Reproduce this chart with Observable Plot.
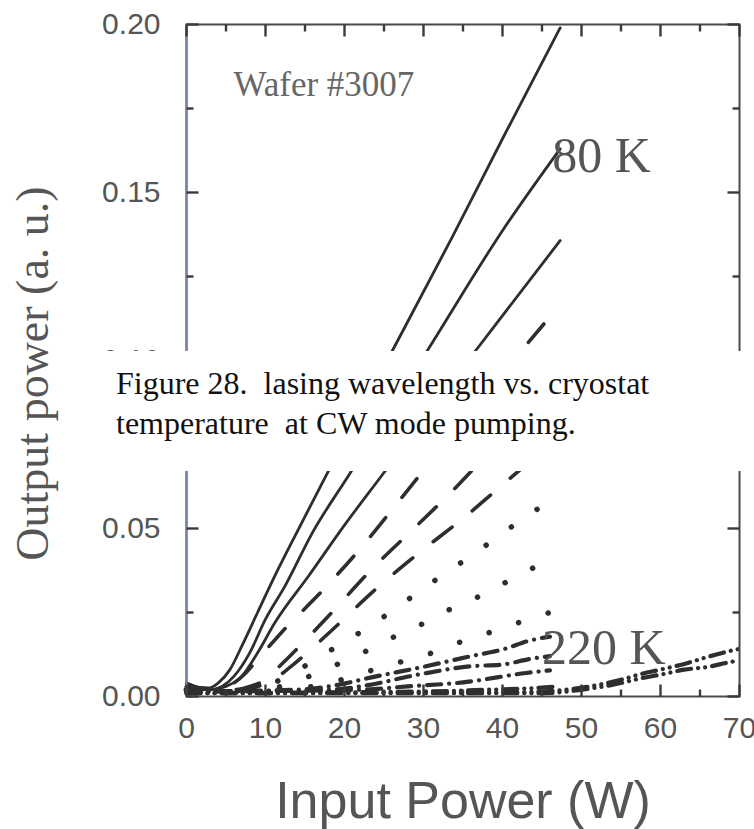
<!DOCTYPE html>
<html><head><meta charset="utf-8">
<script src="https://cdn.jsdelivr.net/npm/d3@7"></script>
<script src="https://cdn.jsdelivr.net/npm/@observablehq/plot@0.6"></script>
<style>
body{margin:0;background:#fff;}
#wrap{position:relative;width:754px;height:829px;overflow:hidden;background:#fff;}
#chart svg{display:block;background:#fff;}
#cap{position:absolute;left:96px;top:351px;width:658px;height:120px;background:#fff;font-family:"Liberation Serif","Times New Roman",serif;font-size:32px;line-height:40px;color:#111;white-space:pre;padding:12px 0 0 20px;box-sizing:border-box;}
</style></head><body>
<div id="wrap"><div id="chart"></div><div id="cap"></div></div>
<script>
// ---- data ----
const temperatures = ["80 K","90 K","100 K","110 K","120 K","130 K","140 K","150 K","160 K","170 K","180 K","190 K","200 K","210 K","220 K"];

const x80 = [0, 2, 3, 4, 5.5, 7, 9, 11, 14, 17.5, 25.4, 33.7, 40, 47.3];
const y80 = [0.004, 0.002, 0.0025, 0.004, 0.008, 0.015, 0.025, 0.035, 0.049, 0.065, 0.100, 0.137, 0.166, 0.199];
const x90 = [0, 3, 4.5, 6, 8, 10, 12.5, 16, 20.5, 30.5, 40.1, 47.3];
const y90 = [0.004, 0.002, 0.003, 0.006, 0.013, 0.023, 0.033, 0.049, 0.0657, 0.103, 0.139, 0.163];
const x100 = [0, 3, 5, 7, 9, 11.2, 15.5, 20, 24.7, 36.3, 47.3];
const y100 = [0.004, 0.002, 0.003, 0.006, 0.013, 0.022, 0.036, 0.051, 0.0657, 0.102, 0.1357];
const x110 = [0, 4, 6, 7.5, 9, 12, 17, 22, 26.5, 35, 46];
const y110 = [0.003, 0.002, 0.004, 0.007, 0.011, 0.019, 0.031, 0.044, 0.057, 0.082, 0.113];
const x120 = [0, 6, 8, 10, 12, 18, 23.5, 29, 34, 40, 46];
const y120 = [0.003, 0.002, 0.003, 0.005, 0.0095, 0.024, 0.038, 0.0505, 0.062, 0.077, 0.092];
const x130 = [0, 7, 9, 11, 13, 18.3, 23.5, 29.3, 35, 40.5, 46];
const y130 = [0.003, 0.002, 0.003, 0.005, 0.0085, 0.0195, 0.031, 0.0425, 0.053, 0.064, 0.075];
const x140 = [0, 9, 11, 13.8, 17, 20.4, 23.9, 27.3, 30.5, 33.8, 37.5, 40.6, 43.9, 46];
const y140 = [0.002, 0.002, 0.004, 0.0074, 0.012, 0.0168, 0.022, 0.0276, 0.033, 0.0383, 0.0443, 0.0496, 0.055, 0.058];
const x150 = [0, 10, 12, 13.8, 17, 20.4, 23.9, 27.3, 30.5, 33.8, 37.5, 40.6, 43.9, 46];
const y150 = [0.002, 0.002, 0.003, 0.0045, 0.0074, 0.011, 0.0148, 0.019, 0.0223, 0.0265, 0.0303, 0.0342, 0.0383, 0.041];
const x160 = [0, 12, 16, 20.4, 23.7, 27.3, 30.5, 33.8, 37.5, 40.6, 43.9, 46];
const y160 = [0.002, 0.002, 0.003, 0.0055, 0.008, 0.0104, 0.0125, 0.0155, 0.0184, 0.0208, 0.0235, 0.025];
const x170 = [0, 14, 18, 24, 29.5, 36, 40, 43.7, 46];
const y170 = [0.0015, 0.002, 0.003, 0.006, 0.0086, 0.012, 0.014, 0.0168, 0.0178];
const x180 = [0, 18, 22, 29.5, 36, 40, 43.5, 46];
const y180 = [0.0015, 0.002, 0.003, 0.0066, 0.009, 0.0095, 0.0112, 0.012];
const x190 = [0, 22, 28, 35, 43, 46];
const y190 = [0.0015, 0.002, 0.003, 0.0042, 0.007, 0.0078];
const x200 = [0, 30, 38, 44, 47];
const y200 = [0.001, 0.0015, 0.002, 0.0025, 0.003];
const x210 = [0, 40, 47, 51, 55, 57.7, 60, 63, 66, 68.5, 70];
const y210 = [0.001, 0.0012, 0.0018, 0.003, 0.005, 0.0068, 0.008, 0.0097, 0.0118, 0.0134, 0.0142];
const x220 = [0, 45, 50, 54, 57.7, 60, 63, 66, 68.5, 70];
const y220 = [0.001, 0.001, 0.002, 0.0035, 0.0055, 0.0065, 0.008, 0.0088, 0.0101, 0.0108];

const xMajorTicks = [0, 10, 20, 30, 40, 50, 60, 70];
const xMinorTicks = [5, 15, 25, 35, 45, 55, 65];
const yMajorTicks = [0, 0.05, 0.10, 0.15, 0.20];
const yMinorTicks = [0.025, 0.075, 0.125, 0.175];

const xTitle = "Input Power (W)";
const yTitle = "Output power (a. u.)";
const waferLabel = ["Wafer #3007"];
const waferX = [5.95], waferY = [0.182];
const tempLabels = ["80 K", "220 K"];
const tempLabelX = [46.3, 45.0];
const tempLabelY = [0.161, 0.0143];
const captionLines = ["Figure 28.  lasing wavelength vs. cryostat", "temperature  at CW mode pumping."];

// ---- build ----
const seriesX = [x80,x90,x100,x110,x120,x130,x140,x150,x160,x170,x180,x190,x200,x210,x220];
const seriesY = [y80,y90,y100,y110,y120,y130,y140,y150,y160,y170,y180,y190,y200,y210,y220];
const styleOf = i => i < 3 ? "solid" : i < 6 ? "dashed" : i < 9 ? "dotted" : i < 12 ? "dashdot" : "dashdotdot";
const styles = {
  solid: {strokeWidth: 2.8},
  dashed: {strokeWidth: 3.6, strokeDasharray: "24,26"},
  dotted: {strokeWidth: 5.5, strokeDasharray: "0.1,31", strokeLinecap: "round"},
  dashdot: {strokeWidth: 4.2, strokeDasharray: "14,8,0.1,8", strokeLinecap: "round"},
  dashdotdot: {strokeWidth: 4.2, strokeDasharray: "14,7,0.1,7,0.1,7", strokeLinecap: "round"}
};
const lineMarks = temperatures.map((t, i) => {
  const rows = seriesX[i].map((x, j) => ({T: t, x, y: seriesY[i][j]}));
  return Plot.line(rows, {x: "x", y: "y", stroke: "#2e2e2e", curve: "monotone-x", ...styles[styleOf(i)]});
});

const xLo = 0, xHi = 70, yLo = 0, yHi = 0.2;
const tickCol = "#3a3a3a";
const sans = "'Liberation Sans', Arial, sans-serif";
const serif = "'Liberation Serif', 'Times New Roman', serif";
// inward tick shapes (symbol paths, length in px)
const tickShape = (dx, dy) => ({draw(ctx) { ctx.moveTo(0, 0); ctx.lineTo(dx, dy); }});
const tickDots = (data, chan, fixed, shape) =>
  Plot.dot(data, {[chan]: d => d, ...fixed, symbol: shape, r: 4, fill: "none", stroke: tickCol, strokeWidth: 2.4});

const chart = Plot.plot({
  width: 754, height: 829,
  marginLeft: 186, marginRight: 15, marginTop: 24, marginBottom: 133,
  x: {domain: [xLo, xHi]},
  y: {domain: [yLo, yHi]},
  marks: [
    ...lineMarks,
    Plot.frame({stroke: "#4a4a4a", strokeWidth: 2}),
    Plot.ruleX([xLo], {stroke: "#7884a4", strokeWidth: 2}),
    tickDots(xMajorTicks, "x", {y: yLo}, tickShape(0, -12)),
    tickDots(xMinorTicks, "x", {y: yLo}, tickShape(0, -7)),
    tickDots(xMajorTicks, "x", {y: yHi}, tickShape(0, 12)),
    tickDots(xMinorTicks, "x", {y: yHi}, tickShape(0, 7)),
    tickDots(yMajorTicks, "y", {x: xLo}, tickShape(12, 0)),
    tickDots(yMinorTicks, "y", {x: xLo}, tickShape(7, 0)),
    tickDots(yMajorTicks, "y", {x: xHi}, tickShape(-12, 0)),
    tickDots(yMinorTicks, "y", {x: xHi}, tickShape(-7, 0)),
    Plot.axisX({anchor: "bottom", ticks: xMajorTicks, tickSize: 0, tickPadding: 20, tickFormat: d => String(d), fontSize: 30, fontFamily: sans, fill: "#555", label: null}),
    Plot.axisY({anchor: "left", ticks: yMajorTicks, tickSize: 0, tickPadding: 26, tickFormat: d => d.toFixed(2), fontSize: 30, fontFamily: sans, fill: "#555", label: null}),
    Plot.text([xTitle], {frameAnchor: "bottom", text: d => d, dy: 105, fontSize: 52, fontFamily: sans, fill: "#555", lineAnchor: "middle", textAnchor: "middle"}),
    Plot.text([yTitle], {frameAnchor: "left", text: d => d, dx: -153, dy: 13, rotate: -90, fontSize: 46, fontFamily: serif, fill: "#555", lineAnchor: "middle", textAnchor: "middle"}),
    Plot.text(waferLabel, {x: (d, i) => waferX[i], y: (d, i) => waferY[i], text: d => d, textAnchor: "start", lineAnchor: "middle", fontSize: 35, fontFamily: serif, fill: "#666"}),
    Plot.text(tempLabels, {x: (d, i) => tempLabelX[i], y: (d, i) => tempLabelY[i], text: d => d, textAnchor: "start", lineAnchor: "middle", fontSize: 50, fontFamily: serif, fill: "#555"})
  ]
});
document.getElementById("chart").appendChild(chart);
document.getElementById("cap").textContent = captionLines.join("\n");
</script>
</body></html>
